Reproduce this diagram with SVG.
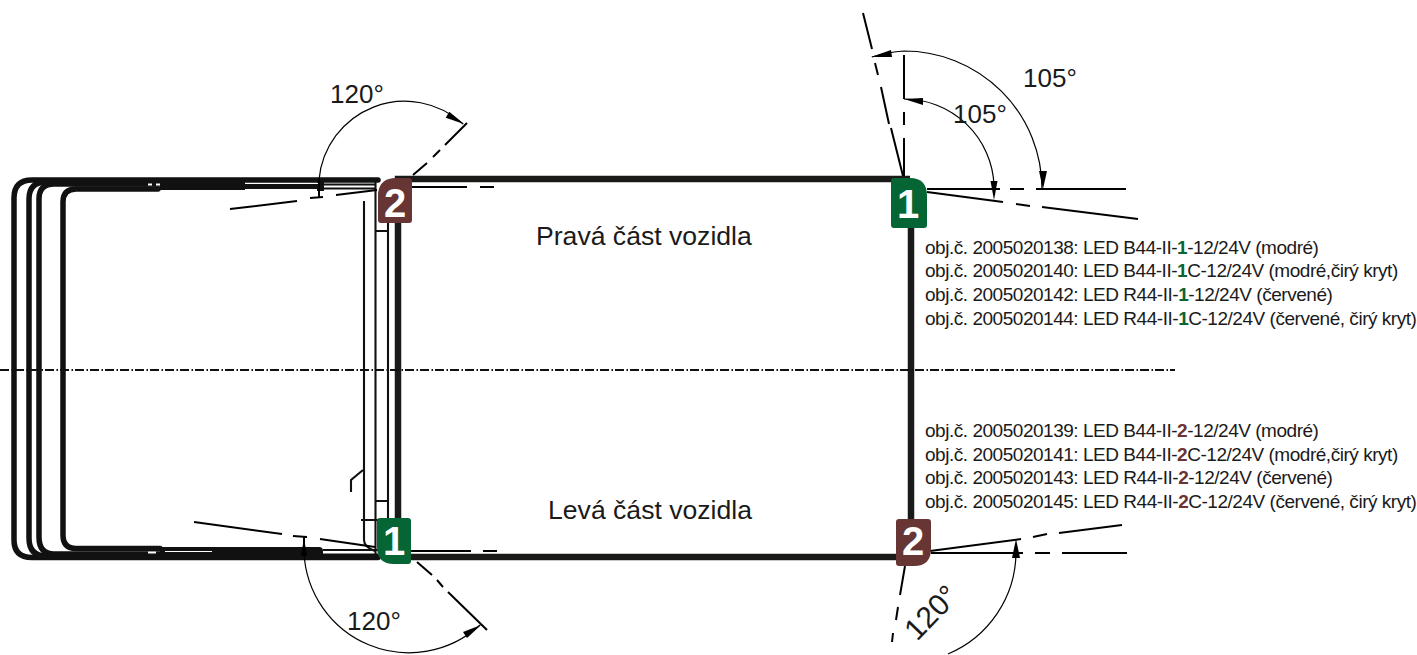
<svg xmlns="http://www.w3.org/2000/svg" width="1417" height="655" viewBox="0 0 1417 655">
<style>
.cab{fill:none;stroke:#111;stroke-width:5.5;stroke-linejoin:round;stroke-linecap:round}
.band{fill:#111}
.thin{fill:none;stroke:#111;stroke-width:2.1}
.dim{fill:none;stroke:#000;stroke-width:2}
.arc{fill:none;stroke:#000;stroke-width:1.2}
.head{fill:#000}
text{font-family:"Liberation Sans",Arial,sans-serif;fill:#1a1a1a}
.big{font-size:26.6px}
.ang{font-size:26px}
.small{font-size:19px;letter-spacing:-.47px}
.num{font-size:40px;font-weight:bold;fill:#fff;text-anchor:middle}
.g{font-weight:bold;fill:#0a6433}
.b{font-weight:bold;fill:#6b3333}
</style>
<g id="vehicle">
<path class="cab" d="M378 180H32Q14 180 14 198V540Q14 557.500 32 557.500H378"/>
<path class="cab" d="M160 182H46Q29 182 29 199V538Q29 556 46 556H160"/>
<path class="cab" d="M160 184H54Q39 184 39 199V537Q39 554 54 554H160"/>
<path class="cab" d="M158 189H76Q63 189 63 202V535Q63 548.500 76 548.500H160"/>
<rect class="band" x="160" y="178" width="85" height="12"/>
<path class="band" d="M160 547H319Q323 547 323 551V560H160Z"/>
<path class="cab" style="stroke-width:5" d="M245 186.500H320"/>
<rect class="band" x="317" y="178" width="7" height="13"/>
<path d="M148 184.500h4M156 184.500h4M148 552.500h8" fill="none" stroke="#fff" stroke-width="2"/>
<path d="M165 551.500H212M250 183.500H318" fill="none" stroke="#fff" stroke-width="1"/>
<path class="thin" d="M323 184.500H376M323 188.500H376M323 550H378M323 554.500H378M364 201V540Q364 547 375 551M375.500 182V557M388 200V520M375 231H388M375 501H388M361 520H378M363 470L351 480V492"/>
<path d="M910 179H398V557H911V179" fill="none" stroke="#1a1a18" stroke-width="6.500"/>
<path d="M0 370H1175" fill="none" stroke="#111" stroke-width="1.800" stroke-dasharray="9 2.500 1.500 2"/>
</g>
<g id="connectors">
<path class="dim" d="M863 13L872 49M875 63L878 75M881 87L889 124M891 128L903 176M904 55V99M904 112V125M904 138V176M927 189H1000M1010 189H1024M1036 189H1126M927 192L1003 202M1016 204L1030 206M1042 207L1138 219"/>
<path class="arc" d="M872 57Q888 52 904 51A138 138 0 0 1 1042 189"/>
<path class="arc" d="M904 99A90 90 0 0 1 994 185"/>
<polygon class="head" points="871,57 891,50 892,57"/>
<polygon class="head" points="904,99 923,98 923,105"/>
<polygon class="head" points="1043,189 1039,171 1047,171"/>
<polygon class="head" points="994,200 990.500,181 997.500,181"/>
<path class="dim" d="M413 175L427 163M433 157L440 150M445 145L467 123M412 187H467M480 187H494M230 209L297 201M310 198L323 197M336 195L377 190M319 180V197"/>
<path class="arc" d="M319 180A86 86 0 0 1 463 124"/>
<polygon class="head" points="464,124 445.700,117.800 449.300,111.800"/>
<path class="dim" d="M417 562L432 575M437 580L443 587M448 592L487 630M411 551H471M483 551H497M194 522L282 534M293 536L307 537M320 539L375 547M304 537V552"/>
<path class="arc" d="M304 552A105 105 0 0 0 480 625"/>
<polygon class="head" points="481,625 463,632 467,638"/>
<polygon class="head" points="304,538 301,556 307,556"/>
<path class="dim" d="M905 566L900 595M898 607L896 620M893 633L892 642M931 553H1023M1035 553H1050M1062 553H1127M930 551L1021 539M1033 537L1047 534M1059 533L1122 525"/>
<path class="arc" d="M1016 553A111 111 0 0 1 948 654"/>
<polygon class="head" points="1016,539 1012,558 1020,558"/>
</g>
<g id="node-front-right">
<path d="M378 193Q380 178 396 178H409Q412 178 412 181V220Q412 223 409 223H381Q378 223 378 220Z" fill="#673534"/>
<text class="num" x="395" y="217">2</text>
</g>
<g id="node-front-left">
<path d="M377 521Q377 518 380 518H408Q411 518 411 521V561Q411 564 408 564H394Q377 564 377 547Z" fill="#056535"/>
<text class="num" x="394" y="555">1</text>
</g>
<g id="node-rear-right">
<path d="M891 181Q891 178 894 178H910Q927 178 927 196V225Q927 228 924 228H894Q891 228 891 225Z" fill="#056535"/>
<text class="num" x="908" y="218">1</text>
</g>
<g id="node-rear-left">
<path d="M896 522Q896 519 899 519H928Q931 519 931 522V549Q931 566 914 566H899Q896 566 896 563Z" fill="#673534"/>
<text class="num" x="913" y="555">2</text>
</g>
<g id="labels">
<text class="big" x="536" y="245">Pravá část vozidla</text>
<text class="big" x="548" y="519">Levá část vozidla</text>
<text class="ang" x="1023" y="87">105°</text>
<text class="ang" x="953" y="123">105°</text>
<text class="ang" x="330" y="103">120°</text>
<text class="ang" x="347" y="630">120°</text>
<text class="ang" style="font-size:30px" transform="translate(917 642) rotate(-46)">120°</text>
<text class="small" x="925" y="254">obj.č. 2005020138: LED B44-II-<tspan class="g">1</tspan>-12/24V (modré)</text>
<text class="small" x="925" y="277">obj.č. 2005020140: LED B44-II-<tspan class="g">1</tspan>C-12/24V (modré,čirý kryt)</text>
<text class="small" x="925" y="301">obj.č. 2005020142: LED R44-II-<tspan class="g">1</tspan>-12/24V (červené)</text>
<text class="small" x="925" y="325">obj.č. 2005020144: LED R44-II-<tspan class="g">1</tspan>C-12/24V (červené, čirý kryt)</text>
<text class="small" x="925" y="437">obj.č. 2005020139: LED B44-II-<tspan class="b">2</tspan>-12/24V (modré)</text>
<text class="small" x="925" y="461">obj.č. 2005020141: LED B44-II-<tspan class="b">2</tspan>C-12/24V (modré,čirý kryt)</text>
<text class="small" x="925" y="484">obj.č. 2005020143: LED R44-II-<tspan class="b">2</tspan>-12/24V (červené)</text>
<text class="small" x="925" y="508">obj.č. 2005020145: LED R44-II-<tspan class="b">2</tspan>C-12/24V (červené, čirý kryt)</text>
</g>
</svg>
